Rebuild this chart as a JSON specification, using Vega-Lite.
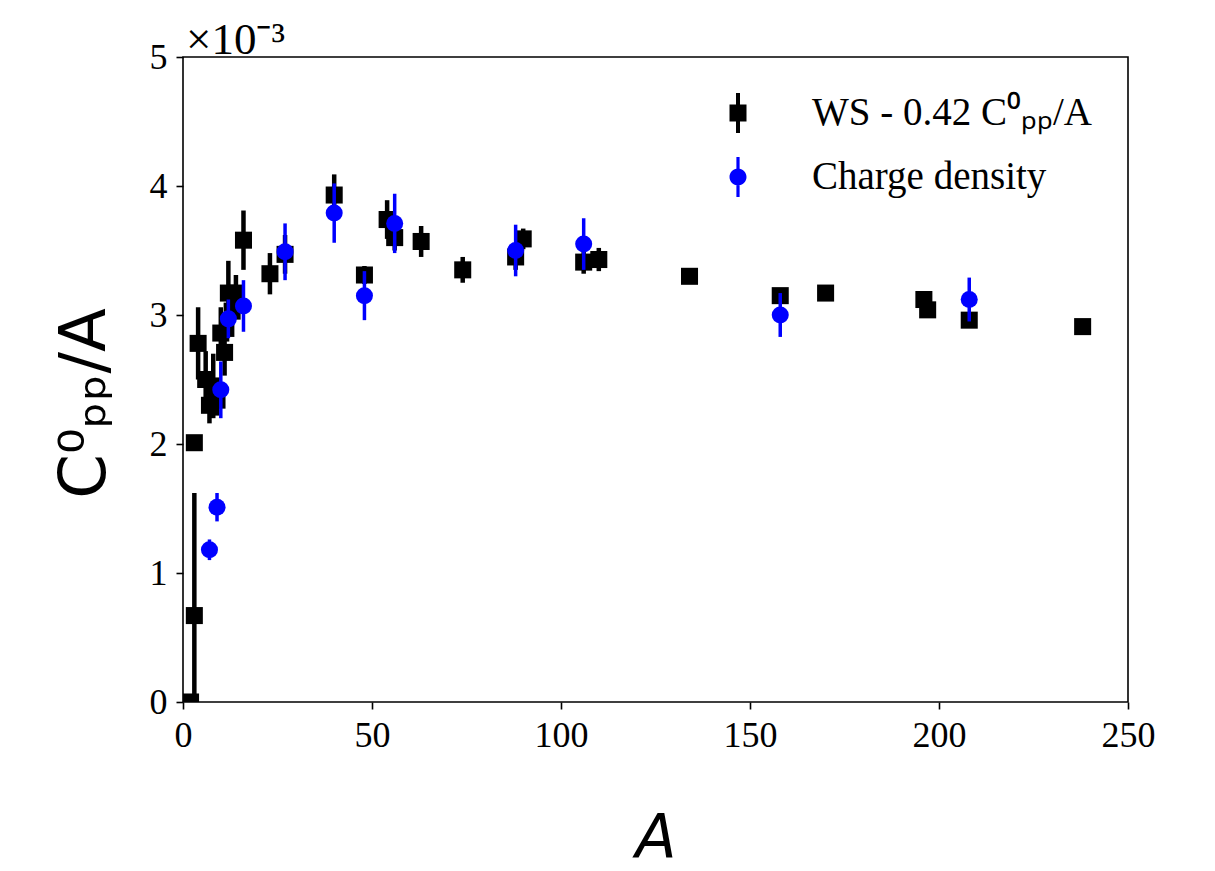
{
  "$schema": "https://vega.github.io/schema/vega-lite/v6.json",
  "autosize": {"type": "none"},
  "padding": {"left": 183, "top": 57, "right": 87, "bottom": 169},
  "width": 945,
  "height": 645,
  "background": "white",
  "title": {"text": "×10⁻³", "anchor": "start", "frame": "group", "font": "Liberation Serif", "fontSize": 45, "fontWeight": "normal", "color": "black", "offset": -24, "dx": 3},
  "config": {
    "view": {"stroke": "black", "strokeWidth": 1.6},
    "axis": {"grid": false, "domain": false, "ticks": true, "tickColor": "black", "tickWidth": 1.6, "tickSize": 7, "labelFont": "Liberation Serif", "labelFontSize": 36, "labelColor": "black", "labelPadding": 9, "labelFlush": false, "titleColor": "black", "titleFontWeight": "normal"},
    "legend": {"symbolOpacity": 1}
  },
  "datasets": {
    "ws": [
      {"A": 2, "val": 0.0, "err": 0.02, "series": "WS - 0.42 C⁰ₚₚ/A"},
      {"A": 3, "val": 0.67, "err": 0.95, "series": "WS - 0.42 C⁰ₚₚ/A"},
      {"A": 3, "val": 2.01, "err": 0.03, "series": "WS - 0.42 C⁰ₚₚ/A"},
      {"A": 4, "val": 2.78, "err": 0.28, "series": "WS - 0.42 C⁰ₚₚ/A"},
      {"A": 6, "val": 2.50, "err": 0.22, "series": "WS - 0.42 C⁰ₚₚ/A"},
      {"A": 7, "val": 2.30, "err": 0.14, "series": "WS - 0.42 C⁰ₚₚ/A"},
      {"A": 8, "val": 2.45, "err": 0.25, "series": "WS - 0.42 C⁰ₚₚ/A"},
      {"A": 9, "val": 2.34, "err": 0.12, "series": "WS - 0.42 C⁰ₚₚ/A"},
      {"A": 10, "val": 2.86, "err": 0.2, "series": "WS - 0.42 C⁰ₚₚ/A"},
      {"A": 11, "val": 2.71, "err": 0.18, "series": "WS - 0.42 C⁰ₚₚ/A"},
      {"A": 12, "val": 3.17, "err": 0.25, "series": "WS - 0.42 C⁰ₚₚ/A"},
      {"A": 13, "val": 3.03, "err": 0.2, "series": "WS - 0.42 C⁰ₚₚ/A"},
      {"A": 14, "val": 3.17, "err": 0.14, "series": "WS - 0.42 C⁰ₚₚ/A"},
      {"A": 16, "val": 3.58, "err": 0.23, "series": "WS - 0.42 C⁰ₚₚ/A"},
      {"A": 23, "val": 3.32, "err": 0.16, "series": "WS - 0.42 C⁰ₚₚ/A"},
      {"A": 27, "val": 3.47, "err": 0.15, "series": "WS - 0.42 C⁰ₚₚ/A"},
      {"A": 40, "val": 3.93, "err": 0.16, "series": "WS - 0.42 C⁰ₚₚ/A"},
      {"A": 48, "val": 3.31, "err": 0.07, "series": "WS - 0.42 C⁰ₚₚ/A"},
      {"A": 54, "val": 3.74, "err": 0.15, "series": "WS - 0.42 C⁰ₚₚ/A"},
      {"A": 56, "val": 3.60, "err": 0.1, "series": "WS - 0.42 C⁰ₚₚ/A"},
      {"A": 63, "val": 3.57, "err": 0.12, "series": "WS - 0.42 C⁰ₚₚ/A"},
      {"A": 74, "val": 3.35, "err": 0.1, "series": "WS - 0.42 C⁰ₚₚ/A"},
      {"A": 88, "val": 3.45, "err": 0.1, "series": "WS - 0.42 C⁰ₚₚ/A"},
      {"A": 90, "val": 3.59, "err": 0.08, "series": "WS - 0.42 C⁰ₚₚ/A"},
      {"A": 106, "val": 3.41, "err": 0.09, "series": "WS - 0.42 C⁰ₚₚ/A"},
      {"A": 110, "val": 3.43, "err": 0.09, "series": "WS - 0.42 C⁰ₚₚ/A"},
      {"A": 134, "val": 3.30, "err": 0.04, "series": "WS - 0.42 C⁰ₚₚ/A"},
      {"A": 158, "val": 3.15, "err": 0.03, "series": "WS - 0.42 C⁰ₚₚ/A"},
      {"A": 170, "val": 3.17, "err": 0.05, "series": "WS - 0.42 C⁰ₚₚ/A"},
      {"A": 196, "val": 3.12, "err": 0.04, "series": "WS - 0.42 C⁰ₚₚ/A"},
      {"A": 197, "val": 3.04, "err": 0.04, "series": "WS - 0.42 C⁰ₚₚ/A"},
      {"A": 208, "val": 2.96, "err": 0.03, "series": "WS - 0.42 C⁰ₚₚ/A"},
      {"A": 238, "val": 2.91, "err": 0.03, "series": "WS - 0.42 C⁰ₚₚ/A"}
    ],
    "cd": [
      {"A": 7, "val": 1.18, "err": 0.08, "series": "Charge density"},
      {"A": 9, "val": 1.51, "err": 0.11, "series": "Charge density"},
      {"A": 10, "val": 2.42, "err": 0.22, "series": "Charge density"},
      {"A": 12, "val": 2.97, "err": 0.15, "series": "Charge density"},
      {"A": 16, "val": 3.07, "err": 0.2, "series": "Charge density"},
      {"A": 27, "val": 3.49, "err": 0.22, "series": "Charge density"},
      {"A": 40, "val": 3.79, "err": 0.23, "series": "Charge density"},
      {"A": 48, "val": 3.15, "err": 0.19, "series": "Charge density"},
      {"A": 56, "val": 3.71, "err": 0.23, "series": "Charge density"},
      {"A": 88, "val": 3.50, "err": 0.2, "series": "Charge density"},
      {"A": 106, "val": 3.55, "err": 0.2, "series": "Charge density"},
      {"A": 158, "val": 3.00, "err": 0.17, "series": "Charge density"},
      {"A": 208, "val": 3.12, "err": 0.17, "series": "Charge density"}
    ]
  },
  "encoding": {
    "x": {"field": "A", "type": "quantitative", "scale": {"domain": [0, 250], "nice": false},
      "axis": {"values": [0, 50, 100, 150, 200, 250], "title": "A", "titleFont": "DejaVu Sans", "titleFontStyle": "italic", "titleFontSize": 60, "titlePadding": 56}},
    "y": {"field": "val", "type": "quantitative", "scale": {"domain": [0, 5], "nice": false},
      "axis": {"values": [0, 1, 2, 3, 4, 5], "title": "C⁰ₚₚ/A", "titleFont": "DejaVu Sans", "titleFontSize": 64, "titlePadding": 32, "titleY": 346}}
  },
  "layer": [
    {
      "data": {"name": "ws"},
      "mark": {"type": "errorbar", "thickness": 4.5, "color": "black", "clip": true},
      "encoding": {"yError": {"field": "err"}}
    },
    {
      "data": {"name": "ws"},
      "mark": {"type": "point", "shape": "square", "filled": true, "size": 290, "opacity": 1, "clip": true},
      "encoding": {
        "color": {"field": "series", "type": "nominal", "scale": {"domain": ["WS - 0.42 C⁰ₚₚ/A", "Charge density"], "range": ["black", "#0000ff"]},
          "legend": {
            "title": null, "orient": "top-right", "offset": 36,
            "labelFont": "Liberation Serif", "labelFontSize": 39, "labelColor": "black", "labelLimit": 600,
            "symbolSize": 1600, "symbolStrokeWidth": 0, "symbolOpacity": 1, "labelOffset": 54, "rowPadding": 24
          }}
      }
    },
    {
      "data": {"name": "cd"},
      "mark": {"type": "errorbar", "thickness": 3.5, "color": "#0000ff", "clip": true},
      "encoding": {"yError": {"field": "err"}}
    },
    {
      "data": {"name": "cd"},
      "mark": {"type": "point", "shape": "circle", "filled": true, "size": 290, "opacity": 1, "clip": true},
      "encoding": {
        "color": {"field": "series", "type": "nominal"}
      }
    },
    {
      "data": {"name": "ws"},
      "mark": {"type": "point", "filled": true, "opacity": 0, "size": 10},
      "encoding": {
        "color": {"field": "series", "type": "nominal"},
        "shape": {"field": "series", "type": "nominal", "scale": {"domain": ["WS - 0.42 C⁰ₚₚ/A", "Charge density"], "range": ["M-0.425,-0.425L0.425,-0.425L0.425,0.425L-0.425,0.425Z M-0.1,-1L0.1,-1L0.1,1L-0.1,1Z", "M-0.425,0A0.425,0.425 0 1,1 0.425,0A0.425,0.425 0 1,1 -0.425,0Z M-0.08,-1L0.08,-1L0.08,1L-0.08,1Z"]}}
      }
    },
    {
      "data": {"name": "cd"},
      "mark": {"type": "point", "filled": true, "opacity": 0, "size": 10},
      "encoding": {
        "color": {"field": "series", "type": "nominal"},
        "shape": {"field": "series", "type": "nominal"}
      }
    }
  ]
}
